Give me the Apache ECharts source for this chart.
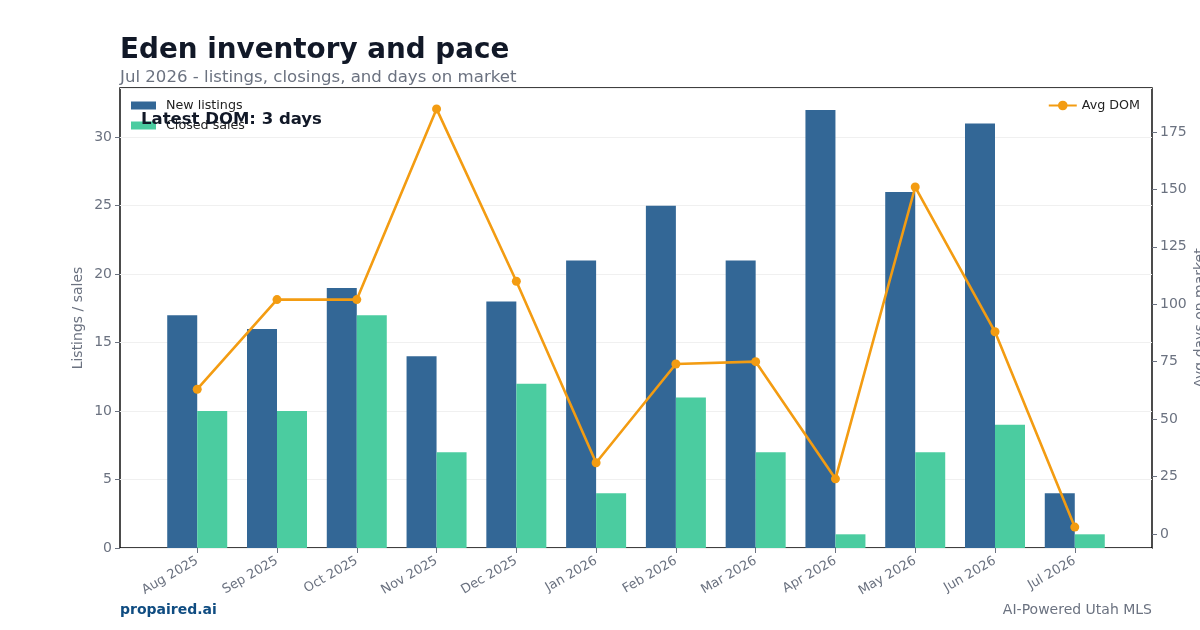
<!DOCTYPE html>
<html>
<head>
<meta charset="utf-8">
<script src="https://cdn.jsdelivr.net/npm/echarts@6/dist/echarts.min.js"></script>
<style>
  html, body { margin: 0; padding: 0; background: #ffffff; }
  #chart { width: 1200px; height: 630px; }
</style>
</head>
<body>
<div id="chart"></div>
<script>
// ── Data ──────────────────────────────────────────────────────────────
const months = ['Aug 2025', 'Sep 2025', 'Oct 2025', 'Nov 2025', 'Dec 2025', 'Jan 2026',
                'Feb 2026', 'Mar 2026', 'Apr 2026', 'May 2026', 'Jun 2026', 'Jul 2026'];
const newListings = [17, 16, 19, 14, 18, 21, 25, 21, 32, 26, 31, 4];
const closedSales = [10, 10, 17, 7, 12, 4, 11, 7, 1, 7, 9, 1];
const avgDom = [63, 102, 102, 185, 110, 31, 74, 75, 24, 151, 88, 3];
const rightTicks = [0, 25, 50, 75, 100, 125, 150, 175];

const FONT = 'DejaVu Sans';
const GRAY = '#6b7280';
const DARK = '#111827';

// matplotlib-like padding around the data
const xIdx = months.map((_, i) => i);
const xMin = -0.968, xMax = months.length - 1 + 0.968;
const leftMax = Math.max(...newListings, ...closedSales) * 1.05;
const domSpan = Math.max(...avgDom) - Math.min(...avgDom);
const rightMin = Math.min(...avgDom) - domSpan * 0.05;
const rightMax = Math.max(...avgDom) + domSpan * 0.05;

const pairs = arr => arr.map((v, i) => [i, v]);

const chart = echarts.init(document.getElementById('chart'), null, { renderer: 'canvas' });

chart.setOption({
  backgroundColor: '#ffffff',
  animation: false,
  textStyle: { fontFamily: FONT },
  title: [
    { text: 'Eden inventory and pace', left: 120, top: 37, padding: 0,
      textStyle: { fontFamily: FONT, fontSize: 27.8, fontWeight: 'bold', color: DARK } },
    { text: 'Jul 2026 - listings, closings, and days on market', left: 120, top: 69, padding: 0,
      textStyle: { fontFamily: FONT, fontSize: 16.6, fontWeight: 'normal', color: GRAY } },
    { text: 'Latest DOM: 3 days', left: 141, top: 111, padding: 0,
      textStyle: { fontFamily: FONT, fontSize: 16.5, fontWeight: 'bold', color: DARK } },
    { text: 'propaired.ai', left: 120, top: 603, padding: 0,
      textStyle: { fontFamily: FONT, fontSize: 14, fontWeight: 'bold', color: '#0f4c81' } },
    { text: 'AI-Powered Utah MLS', right: 48, top: 603, padding: 0,
      textStyle: { fontFamily: FONT, fontSize: 14, fontWeight: 'normal', color: GRAY } }
  ],
  legend: [
    {
      data: ['New listings', 'Closed sales'],
      orient: 'vertical', left: 131, top: 99, padding: 0,
      icon: 'rect', itemWidth: 25, itemHeight: 8, itemGap: 7,
      textStyle: { fontFamily: FONT, fontSize: 12.7, color: '#222222', padding: [0, 0, 0, 5] }
    },
    {
      data: ['Avg DOM'],
      right: 60, top: 99, padding: 0,
      itemWidth: 28, itemHeight: 12,
      textStyle: { fontFamily: FONT, fontSize: 12.7, color: '#222222' }
    }
  ],
  grid: {
    left: 120, right: 48, top: 88, bottom: 82, outerBoundsMode: 'none',
    show: true, borderColor: '#000000', borderWidth: 1.4, backgroundColor: 'transparent'
  },
  xAxis: {
    type: 'value', min: xMin, max: xMax,
    splitLine: { show: false },
    axisLine: { show: false, onZero: false },
    axisTick: { show: true, length: 5, customValues: xIdx, lineStyle: { color: GRAY } },
    axisLabel: {
      customValues: xIdx, rotate: 30, margin: 12,
      fontFamily: FONT, fontSize: 13, color: GRAY,
      formatter: v => months[Math.round(v)] || ''
    }
  },
  yAxis: [
    {
      type: 'value', min: 0, max: leftMax, interval: 5, position: 'left',
      name: 'Listings / sales', nameLocation: 'middle', nameGap: 35, nameMoveOverlap: false,
      nameTextStyle: { fontFamily: FONT, fontSize: 14, color: GRAY },
      axisLine: { show: false, onZero: false },
      axisTick: { show: true, length: 5, lineStyle: { color: GRAY } },
      axisLabel: { showMaxLabel: false, fontFamily: FONT, fontSize: 14, color: GRAY, margin: 8 },
      splitLine: { show: true, lineStyle: { color: '#f0f0f0', width: 1 } }
    },
    {
      type: 'value', min: rightMin, max: rightMax, position: 'right',
      name: 'Avg days on market', nameLocation: 'middle', nameGap: 41, nameRotate: 90,
      nameMoveOverlap: false,
      nameTextStyle: { fontFamily: FONT, fontSize: 14, color: GRAY },
      axisLine: { show: false, onZero: false },
      axisTick: { show: true, length: 5, customValues: rightTicks, lineStyle: { color: GRAY } },
      axisLabel: { customValues: rightTicks, fontFamily: FONT, fontSize: 14, color: GRAY, margin: 8 },
      splitLine: { show: false }
    }
  ],
  series: [
    {
      name: 'New listings', type: 'bar', yAxisIndex: 0,
      data: pairs(newListings), barWidth: 30, barGap: '0%',
      itemStyle: { color: '#336796' }
    },
    {
      name: 'Closed sales', type: 'bar', yAxisIndex: 0,
      data: pairs(closedSales), barWidth: 30, barGap: '0%',
      itemStyle: { color: '#4bcca0' }
    },
    {
      name: 'Avg DOM', type: 'line', yAxisIndex: 1,
      data: pairs(avgDom), z: 5,
      symbol: 'circle', symbolSize: 9,
      lineStyle: { color: '#f39c12', width: 2.6 },
      itemStyle: { color: '#f39c12' }
    }
  ]
});
</script>
</body>
</html>
